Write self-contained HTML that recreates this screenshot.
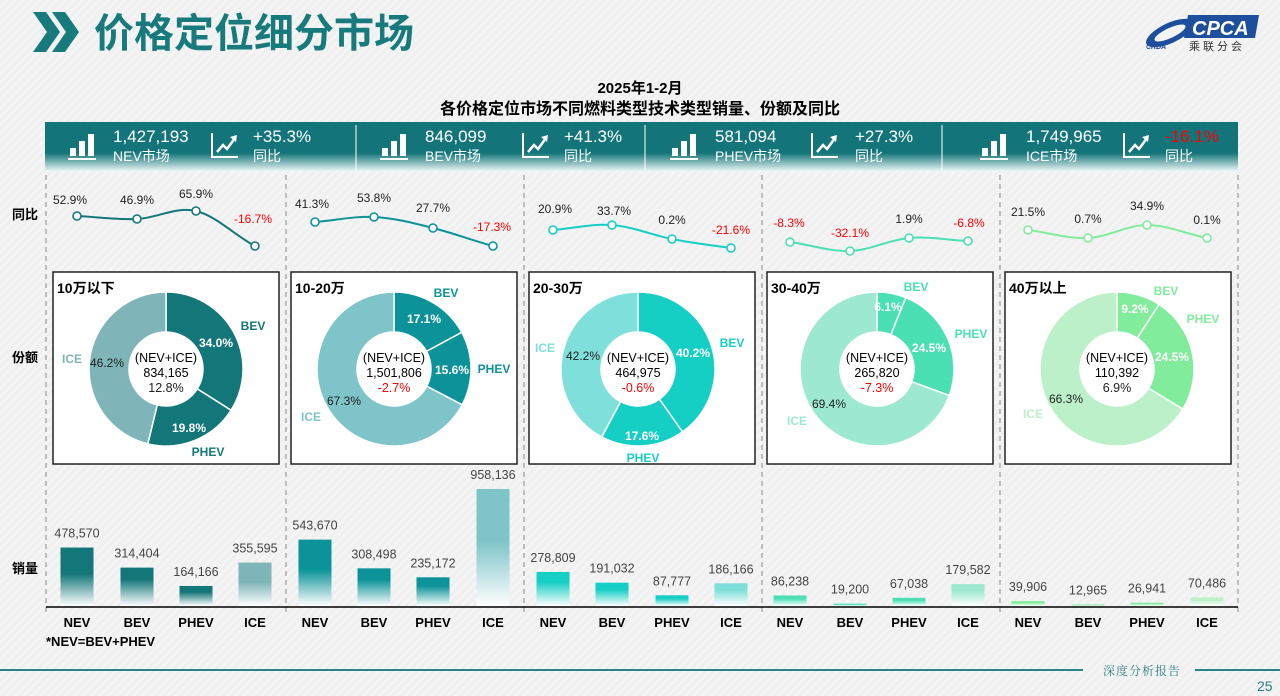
<!DOCTYPE html>
<html><head><meta charset="utf-8">
<style>
html,body{margin:0;padding:0;}
body{width:1280px;height:696px;overflow:hidden;background:#f4f4f4;font-family:"Liberation Sans","Noto Sans CJK SC",sans-serif;}
svg{display:block;}
</style></head>
<body>
<svg id="s" width="1280" height="696" xmlns="http://www.w3.org/2000/svg" font-family="Liberation Sans, Noto Sans CJK SC, sans-serif">
<defs>
<pattern id="stripe" width="6" height="6" patternUnits="userSpaceOnUse" patternTransform="rotate(45)">
<rect width="6" height="6" fill="#f4f4f4"/><rect width="3" height="6" fill="#f0f0f0"/></pattern>
<linearGradient id="hdr" x1="0" y1="0" x2="0" y2="1">
<stop offset="0" stop-color="#137579"/><stop offset="0.62" stop-color="#137579"/><stop offset="1" stop-color="#f6fbfb"/></linearGradient>
</defs>
<rect width="1280" height="696" fill="url(#stripe)"/>
<polygon points="33,12 46,12 60,32 46,52 33,52 47,32" fill="#177a7d"/>
<polygon points="52,12 65,12 79,32 65,52 52,52 66,32" fill="#177a7d"/>
<text x="94" y="47" font-size="40" font-weight="bold" fill="#177a7d" font-family="Liberation Sans, Noto Sans CJK SC, sans-serif">价格定位细分市场</text>
<ellipse cx="1170" cy="33" rx="26" ry="10" fill="#1d4f9c" transform="rotate(-25 1170 33)"/>
<ellipse cx="1170" cy="33" rx="17" ry="5" fill="#f4f4f4" transform="rotate(-25 1170 33)"/>
<text x="1146" y="49" font-size="7" font-style="italic" font-weight="bold" fill="#1d4f9c">CRDA</text>
<polygon points="1188,15 1259,15 1255,38 1184,38" fill="#1d4f9c"/>
<text x="1192" y="35" font-size="20" font-style="italic" fill="#fff" font-weight="bold">CPCA</text>
<text x="1189" y="50" font-size="11" fill="#333" letter-spacing="3">乘联分会</text>
<text x="640" y="93" font-size="15" font-weight="bold" text-anchor="middle">2025年1-2月</text>
<text x="640" y="114" font-size="16" font-weight="bold" text-anchor="middle">各价格定位市场不同燃料类型技术类型销量、份额及同比</text>
<rect x="45" y="122" width="1193" height="50" fill="url(#hdr)"/>
<g id="hb"></g>
<g id="main"></g>
<rect x="0" y="669" width="1083" height="2" fill="#2a8587"/>
<rect x="1195" y="669" width="85" height="2" fill="#2a8587"/>
<text x="1103" y="675" font-size="12" fill="#2a7f82" font-family="Noto Serif CJK SC, serif" letter-spacing="1">深度分析报告</text>
<text x="1257" y="691" font-size="14" fill="#2a7f82">25</text>
</svg>
<script>
const NS="http://www.w3.org/2000/svg";
function el(p,t,a,txt){const e=document.createElementNS(NS,t);for(const k in a)e.setAttribute(k,a[k]);if(txt!==undefined)e.textContent=txt;p.appendChild(e);return e;}
const hb=document.getElementById('hb'), m=document.getElementById('main');
const H=[[68,113,212,253,"1,427,193","NEV市场","+35.3%",false],[380,425,523,564,"846,099","BEV市场","+41.3%",false],[670,715,812,855,"581,094","PHEV市场","+27.3%",false],[980,1026,1124,1165,"1,749,965","ICE市场","-16.1%",true]];
[356,645,942].forEach(x=>el(hb,'line',{x1:x,y1:125,x2:x,y2:170,stroke:'#fff','stroke-width':1}));
H.forEach(h=>{
 const ix=h[0];
 el(hb,'rect',{x:ix+2,y:148,width:6,height:8,fill:'#fff'});
 el(hb,'rect',{x:ix+11,y:141,width:6,height:15,fill:'#fff'});
 el(hb,'rect',{x:ix+20,y:134,width:6,height:22,fill:'#fff'});
 el(hb,'rect',{x:ix,y:158,width:28,height:2,fill:'#fff'});
 el(hb,'text',{x:h[1],y:142,'font-size':17,fill:'#fff'},h[4]);
 el(hb,'text',{x:h[1],y:161,'font-size':14,fill:'#fff'},h[5]);
 const tx=h[2];
 el(hb,'polyline',{points:`${tx},133 ${tx},157 ${tx+26},157`,fill:'none',stroke:'#fff','stroke-width':2});
 el(hb,'polyline',{points:`${tx+5},152 ${tx+11},145 ${tx+15},149 ${tx+23},138`,fill:'none',stroke:'#fff','stroke-width':2.5});
 el(hb,'polygon',{points:`${tx+18},137 ${tx+25},135 ${tx+24},142`,fill:'#fff'});
 el(hb,'text',{x:h[3],y:142,'font-size':17,fill:h[7]?'#f00':'#fff'},h[6]);
 el(hb,'text',{x:h[3],y:161,'font-size':14,fill:'#fff'},"同比");
});
[["同比",219],["份额",362],["销量",573]].forEach(l=>el(m,'text',{x:12,y:l[1],'font-size':13,'font-weight':'bold'},l[0]));
[46,286,524,762,1000,1238].forEach(x=>el(m,'line',{x1:x,y1:175,x2:x,y2:612,stroke:'#999','stroke-dasharray':'5,4','stroke-width':1.2}));
el(m,'line',{x1:46,y1:607,x2:1238,y2:607,stroke:'#000','stroke-width':1.5});
const P=[
 {c:'#137679',ic:'#7fb5b8',box:53,cx:166,title:'10万以下',xs:[77,137,196,255],ly:[216,219,211,246],
  yo:['52.9%','46.9%','65.9%','-16.7%'],lyl:[[70,204],[137,204],[196,198],[253,223]],
  sh:[34.0,19.8,46.2],lab:{BEV:[253,330],PHEV:[208,456],ICE:[72,363]},pct:[[216,347],[189,432],[107,367]],
  ctr:['834,165','12.8%',false],v:[478570,314404,164166,355595]},
 {c:'#0b9399',ic:'#7fc4c8',box:291,cx:394,title:'10-20万',xs:[315,374,433,493],ly:[222,217,228,246],
  yo:['41.3%','53.8%','27.7%','-17.3%'],lyl:[[312,208],[374,202],[433,212],[492,231]],
  sh:[17.1,15.6,67.3],lab:{BEV:[446,297],PHEV:[494,373],ICE:[311,421]},pct:[[424,323],[452,374],[344,405]],
  ctr:['1,501,806','-2.7%',true],v:[543670,308498,235172,958136]},
 {c:'#16cfc4',ic:'#7fdfda',box:529,cx:638,title:'20-30万',xs:[553,612,672,731],ly:[230,225,239,248],
  yo:['20.9%','33.7%','0.2%','-21.6%'],lyl:[[555,213],[614,215],[672,224],[731,234]],
  sh:[40.2,17.6,42.2],lab:{BEV:[732,347],PHEV:[643,462],ICE:[545,352]},pct:[[693,357],[642,440],[583,360]],
  ctr:['464,975','-0.6%',true],v:[278809,191032,87777,186166]},
 {c:'#4ae0b4',ic:'#9de8d0',box:767,cx:877,title:'30-40万',xs:[790,850,909,968],ly:[242,251,238,241],
  yo:['-8.3%','-32.1%','1.9%','-6.8%'],lyl:[[789,227],[850,237],[909,223],[969,227]],
  sh:[6.1,24.5,69.4],lab:{BEV:[916,291],PHEV:[971,338],ICE:[797,425]},pct:[[888,311],[929,352],[829,408]],
  ctr:['265,820','-7.3%',true],v:[86238,19200,67038,179582]},
 {c:'#80ec9c',ic:'#bcf0c8',box:1005,cx:1117,title:'40万以上',xs:[1028,1088,1147,1207],ly:[230,238,225,238],
  yo:['21.5%','0.7%','34.9%','0.1%'],lyl:[[1028,216],[1088,223],[1147,210],[1207,224]],
  sh:[9.2,24.5,66.3],lab:{BEV:[1166,295],PHEV:[1203,323],ICE:[1033,418]},pct:[[1135,313],[1172,361],[1066,403]],
  ctr:['110,392','6.9%',false],v:[39906,12965,26941,70486]}
];
const cats=['NEV','BEV','PHEV','ICE'];
P.forEach((p,i)=>{
 let d=`M${p.xs[0]},${p.ly[0]}`;
 for(let k=0;k<3;k++){const x0=p.xs[k],y0=p.ly[k],x1=p.xs[k+1],y1=p.ly[k+1];
  const ym=k>0?(p.ly[k+1]-p.ly[k-1])/2*0.35:(y1-y0)*0.3;const yn=k<2?(p.ly[k+2]-p.ly[k])/2*0.35:(y1-y0)*0.3;
  d+=` C${x0+20},${y0+ym} ${x1-20},${y1-yn} ${x1},${y1}`;}
 el(m,'path',{d:d,fill:'none',stroke:p.c,'stroke-width':2});
 p.xs.forEach((x,k)=>{el(m,'circle',{cx:x,cy:p.ly[k],r:4,fill:'#fff',stroke:p.c,'stroke-width':1.6});
  el(m,'text',{x:p.lyl[k][0],y:p.lyl[k][1],'font-size':12,'text-anchor':'middle',fill:p.yo[k][0]=='-'?'#f00':'#222'},p.yo[k]);});
 el(m,'rect',{x:p.box,y:272,width:226,height:192,fill:'#fff',stroke:'#222','stroke-width':1.5});
 el(m,'text',{x:p.box+4,y:293,'font-size':14,'font-weight':'bold'},p.title);
 const cy=369,R=77,r=37;let a=0;const cols=[p.c,p.c,p.ic];
 p.sh.forEach((s,k)=>{const a0=a/100*2*Math.PI,a1=(a+s)/100*2*Math.PI;a+=s;
  const pt=(rad,an)=>[p.cx+rad*Math.sin(an),cy-rad*Math.cos(an)];
  const [x0,y0]=pt(R,a0),[x1,y1]=pt(R,a1),[x2,y2]=pt(r,a1),[x3,y3]=pt(r,a0);const lg=(a1-a0)>Math.PI?1:0;
  el(m,'path',{d:`M${x0},${y0} A${R},${R} 0 ${lg} 1 ${x1},${y1} L${x2},${y2} A${r},${r} 0 ${lg} 0 ${x3},${y3}Z`,fill:cols[k],stroke:'#fff','stroke-width':1.5});});
 ['BEV','PHEV','ICE'].forEach((n,k)=>{el(m,'text',{x:p.lab[n][0],y:p.lab[n][1],'font-size':12,'font-weight':'bold','text-anchor':'middle',fill:k<2?p.c:p.ic},n);
  el(m,'text',{x:p.pct[k][0],y:p.pct[k][1],'font-size':12,'font-weight':k<2?'bold':'normal','text-anchor':'middle',fill:k<2?'#fff':'#222'},p.sh[k].toFixed(1)+'%');});
 el(m,'text',{x:p.cx,y:362,'font-size':12.5,'text-anchor':'middle'},'(NEV+ICE)');
 el(m,'text',{x:p.cx,y:377,'font-size':12.5,'text-anchor':'middle'},p.ctr[0]);
 el(m,'text',{x:p.cx,y:392,'font-size':12.5,'text-anchor':'middle',fill:p.ctr[2]?'#f00':'#222'},p.ctr[1]);
 p.v.forEach((v,k)=>{const h=v/958136*117;const x=p.xs[k]-16.5,y=606-h;const col=k==3?p.ic:p.c;
  const gid='g'+i+k;const g=el(m,'linearGradient',{id:gid,x1:0,y1:0,x2:0,y2:1,gradientUnits:'userSpaceOnUse'});
  g.setAttribute('y1',y);g.setAttribute('y2',606);
  el(g,'stop',{offset:0,'stop-color':col});el(g,'stop',{offset:h>40?0.45:0.3,'stop-color':col});el(g,'stop',{offset:1,'stop-color':'#fff'});
  el(m,'rect',{x:x,y:y,width:33,height:h,fill:`url(#${gid})`});
  el(m,'text',{x:p.xs[k],y:y-10,'font-size':12.5,'text-anchor':'middle',fill:'#444'},v.toLocaleString('en-US'));
  el(m,'text',{x:p.xs[k],y:627,'font-size':13,'font-weight':'bold','text-anchor':'middle'},cats[k]);});
});
el(m,'text',{x:46,y:646,'font-size':13,'font-weight':'bold'},'*NEV=BEV+PHEV');
</script>
</body></html>
